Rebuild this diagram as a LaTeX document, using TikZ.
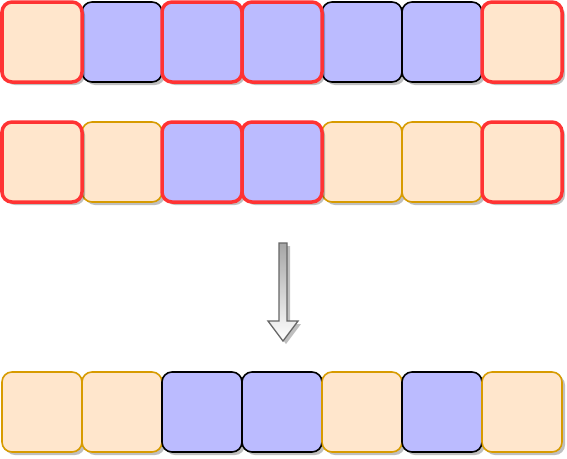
\documentclass[tikz,border=0pt]{standalone}
\usetikzlibrary{shadows}
\definecolor{peach}{HTML}{FFE6CC}
\definecolor{lav}{HTML}{BBBBFF}
\definecolor{redline}{HTML}{FF3333}
\definecolor{orline}{HTML}{D79B00}
\definecolor{arrline}{HTML}{666666}
\tikzset{
  cell/.style={minimum width=80pt, minimum height=80pt, inner sep=0pt, rounded corners=10pt,
    drop shadow={shadow xshift=3pt, shadow yshift=-3pt, fill=black, opacity=0.25}},
  pcell/.style={cell, fill=peach, draw=orline, line width=1.6pt},
  bcell/.style={cell, fill=lav, draw=black, line width=1.6pt},
  rpcell/.style={cell, fill=peach, draw=redline, line width=3.5pt},
  rbcell/.style={cell, fill=lav, draw=redline, line width=3.5pt},
  downarrow/.style={draw=arrline, line width=1.3pt, top color=black!35, bottom color=white,
    drop shadow={shadow xshift=3pt, shadow yshift=-3pt, fill=black, opacity=0.25}}
}
\begin{document}
\begin{tikzpicture}[x=1pt,y=-1pt]
\useasboundingbox (0,0) rectangle (567,458);
% row 1
\node[bcell] (a2) at (122,42) {};
\node[bcell] (a5) at (362,42) {};
\node[bcell] (a6) at (442,42) {};
\node[rpcell] (a1) at (42,42) {};
\node[rbcell] (a3) at (202,42) {};
\node[rbcell] (a4) at (282,42) {};
\node[rpcell] (a7) at (522,42) {};
% row 2
\node[pcell] (b2) at (122,162) {};
\node[pcell] (b5) at (362,162) {};
\node[pcell] (b6) at (442,162) {};
\node[rpcell] (b1) at (42,162) {};
\node[rbcell] (b3) at (202,162) {};
\node[rbcell] (b4) at (282,162) {};
\node[rpcell] (b7) at (522,162) {};
% arrow
\path[downarrow] (279,243) -- (287,243) -- (287,321) -- (298,321) -- (283,341) -- (268,321) -- (279,321) -- cycle;
% row 3
\node[pcell] (c1) at (42,412) {};
\node[pcell] (c2) at (122,412) {};
\node[bcell] (c3) at (202,412) {};
\node[bcell] (c4) at (282,412) {};
\node[pcell] (c5) at (362,412) {};
\node[bcell] (c6) at (442,412) {};
\node[pcell] (c7) at (522,412) {};
\end{tikzpicture}
\end{document}
